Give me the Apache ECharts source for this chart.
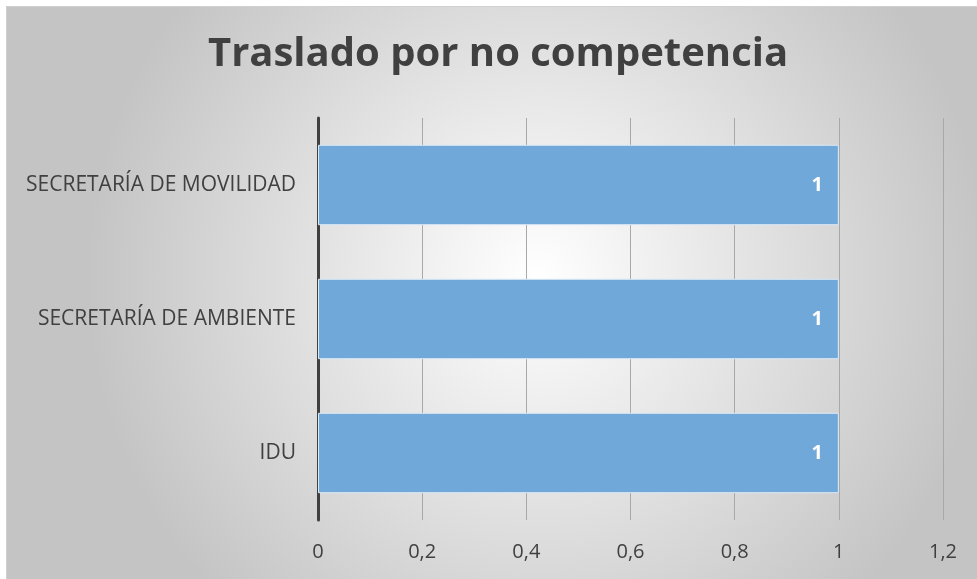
<!DOCTYPE html>
<html><head><meta charset="utf-8">
<script src="https://cdn.jsdelivr.net/npm/echarts@6/dist/echarts.min.js"></script>
<style>html,body{margin:0;padding:0;background:#fff}#c{width:977px;height:579px}</style>
</head><body><div id="c"></div>
<script>
const categories = ['IDU', 'SECRETARÍA DE AMBIENTE', 'SECRETARÍA DE MOVILIDAD'];
const values = [1, 1, 1];
const titleText = 'Traslado por no competencia';
const chart = echarts.init(document.getElementById('c'), null, {renderer: 'canvas'});
chart.setOption({
  backgroundColor: {
    type: 'radial', x: 0.55, y: 0.48, r: 0.78,
    colorStops: [{offset: 0, color: '#ffffff'}, {offset: 1, color: '#c4c4c4'}]
  },
  animation: false,
  graphic: [
    {type: 'rect', shape: {x: 0, y: 0, width: 977, height: 6}, style: {fill: '#ffffff'}, z: 100},
    {type: 'rect', shape: {x: 0, y: 0, width: 6, height: 579}, style: {fill: '#ffffff'}, z: 100},
    {type: 'polyline', shape: {points: [[6.5, 579], [6.5, 6.5], [977, 6.5]]}, style: {stroke: '#d0d0d0', lineWidth: 1, fill: null}, z: 101}
  ],
  title: {
    text: titleText, left: 203, top: 30,
    textStyle: {fontFamily: 'Open Sans', fontWeight: 'bold', fontSize: 40, color: '#404040'}
  },
  grid: {left: 318, right: 34, top: 118, bottom: 59, containLabel: false},
  xAxis: {
    type: 'value', min: 0, max: 1.2, interval: 0.2,
    axisLine: {show: false}, axisTick: {show: false},
    splitLine: {lineStyle: {color: '#a8a8a8', width: 1}},
    axisLabel: {
      margin: 22, color: '#404040', fontSize: 20, fontFamily: 'Open Sans',
      formatter: v => String(Math.round(v * 10) / 10).replace('.', ',')
    }
  },
  yAxis: {
    type: 'category', data: categories,
    axisLine: {lineStyle: {color: '#404040', width: 3}},
    axisTick: {show: false},
    axisLabel: {margin: 22, color: '#404040', fontSize: 21, fontFamily: 'Open Sans'}
  },
  series: [{
    type: 'bar', data: values, barCategoryGap: '40%',
    itemStyle: {color: '#70a8da', borderColor: '#dceaf6', borderWidth: 1},
    label: {
      show: true, position: 'insideRight', distance: 16,
      color: '#ffffff', fontWeight: 'bold', fontSize: 20, fontFamily: 'Open Sans'
    }
  }]
});
</script></body></html>
